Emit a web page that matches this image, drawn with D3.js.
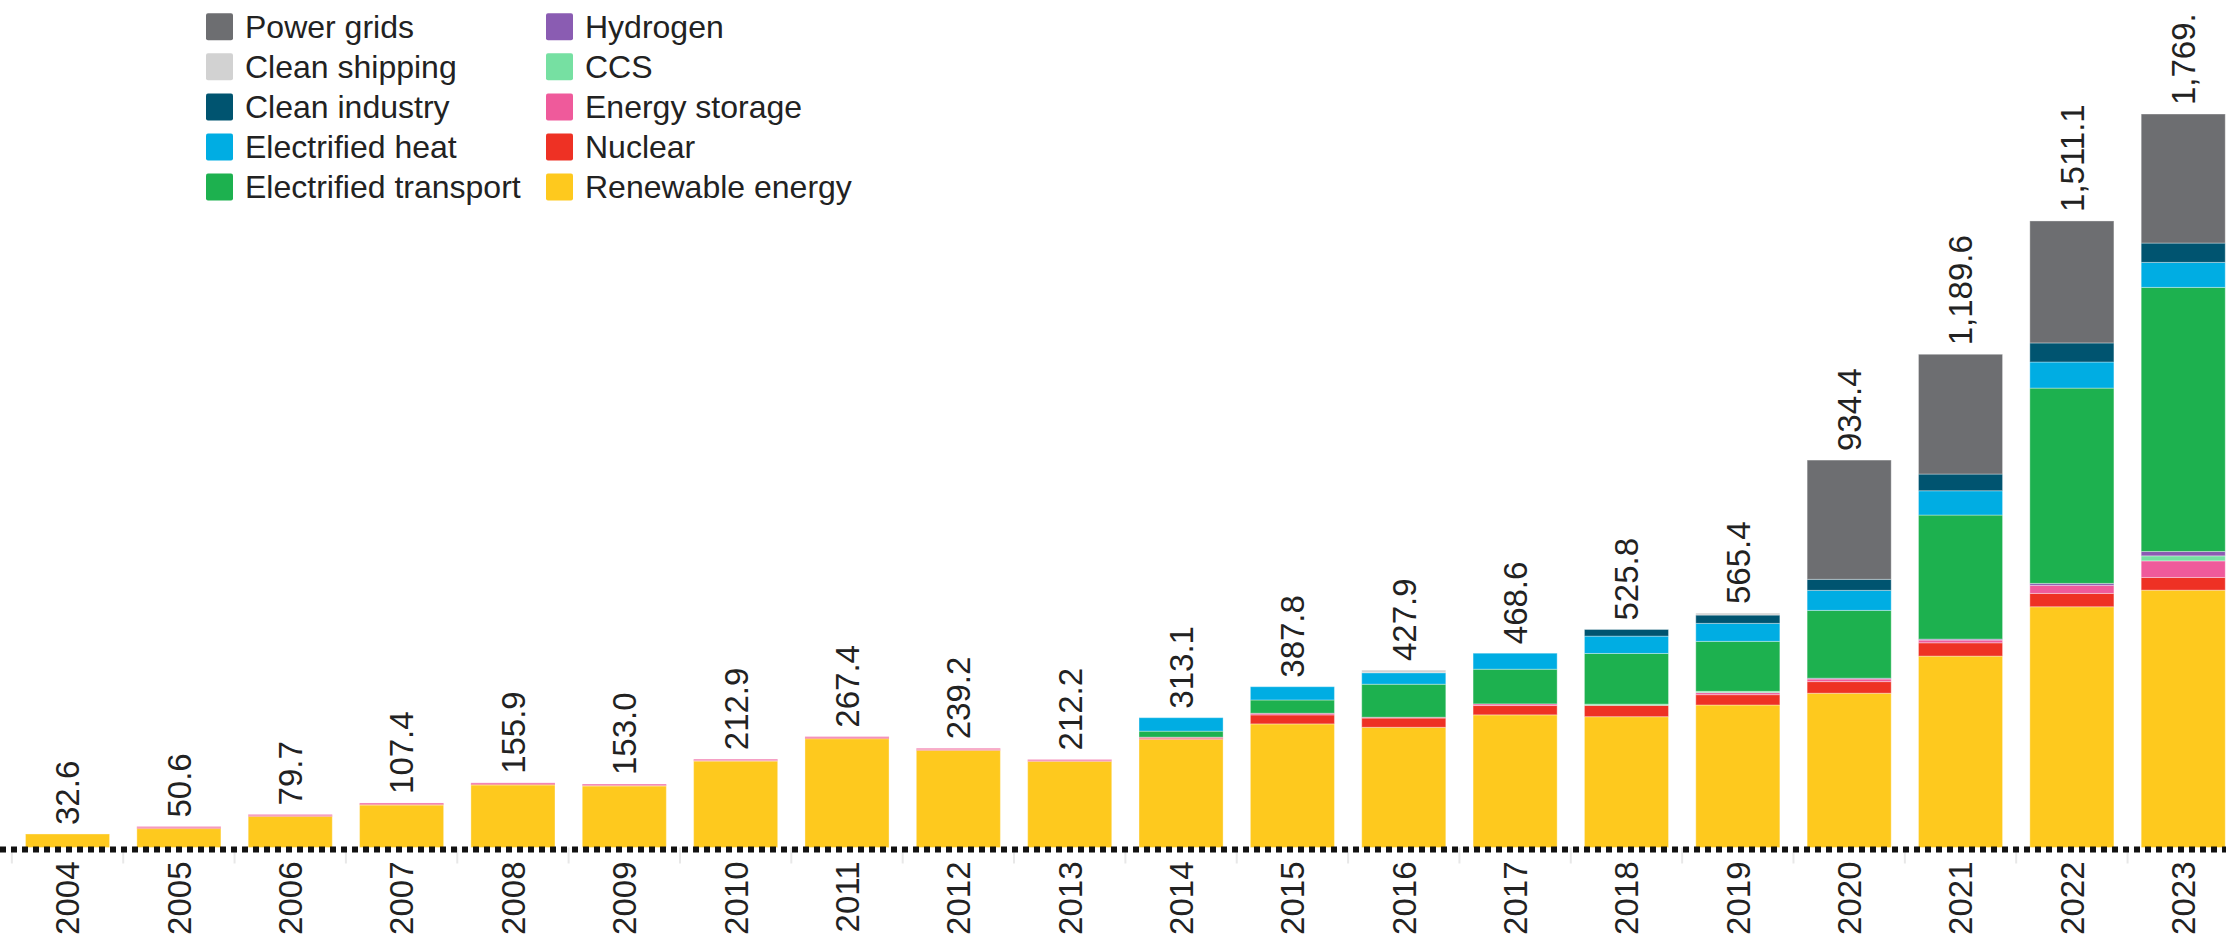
<!DOCTYPE html>
<html>
<head>
<meta charset="utf-8">
<script src="https://cdn.jsdelivr.net/npm/d3@7"></script>
<style>
  html, body { margin: 0; padding: 0; background: #ffffff; }
  svg { display: block; font-family: "Liberation Sans", Arial, sans-serif; }
</style>
</head>
<body>
<svg id="chart" width="2226" height="943"></svg>
<script>
// ---- data ----
const years = ["2004","2005","2006","2007","2008","2009","2010","2011","2012","2013",
               "2014","2015","2016","2017","2018","2019","2020","2021","2022","2023"];
const totalLabels = ["32.6","50.6","79.7","107.4","155.9","153.0","212.9","267.4","239.2","212.2",
                     "313.1","387.8","427.9","468.6","525.8","565.4","934.4","1,189.6","1,511.1","1,769."];
// stacking order bottom -> top
const seriesNames = ["Renewable energy","Nuclear","Energy storage","CCS","Hydrogen",
                     "Electrified transport","Electrified heat","Clean industry","Clean shipping","Power grids"];
const renewable   = [32.6, 45.6, 74.7, 102.4, 150.9, 148.5, 208.4, 262.4, 234.2, 207.7,
                     260.6, 298.1, 289.9, 319.9, 315.5, 343.7, 372.1, 461.6, 580.6, 620.7];
const nuclear     = [0, 2.0, 2.0, 2.0, 2.0, 1.5, 1.5, 2.0, 2.0, 1.5,
                     3.0, 21.7, 22.3, 22.5, 27.3, 24.9, 28.0, 32.1, 32.2, 30.6];
const storage     = [0, 3.0, 3.0, 3.0, 3.0, 3.0, 3.0, 3.0, 3.0, 3.0,
                     2.5, 4.0, 2.0, 4.0, 0, 5.0, 6.2, 6.5, 19.4, 40.0];
const ccs         = [0,0,0,0,0,0,0,0,0,0, 0, 0, 0, 0, 3.0, 3.0, 0, 0, 0, 12.1];
const hydrogen    = [0,0,0,0,0,0,0,0,0,0, 0, 0, 0, 0, 0, 0, 2.0, 2.4, 4.8, 10.6];
const transport   = [0,0,0,0,0,0,0,0,0,0, 14.5, 32.0, 79.6, 83.6, 122.2, 120.6, 163.6, 299.2, 471.0, 636.9];
const heat        = [0,0,0,0,0,0,0,0,0,0, 32.5, 32.0, 27.7, 38.6, 41.8, 43.4, 48.3, 58.6, 62.9, 60.3];
const industry    = [0,0,0,0,0,0,0,0,0,0, 0, 0, 0, 0, 16.0, 20.0, 26.6, 40.3, 46.0, 46.6];
const shipping    = [0,0,0,0,0,0,0,0,0,0, 0, 0, 6.4, 0, 0, 4.8, 0, 0, 0, 0];
const grids       = [0,0,0,0,0,0,0,0,0,0, 0, 0, 0, 0, 0, 0, 287.6, 288.9, 294.2, 311.2];
const seriesValues = [renewable, nuclear, storage, ccs, hydrogen, transport, heat, industry, shipping, grids];
const seriesColors = ["#fec91e","#ee3124","#ef5a9b","#76e0a2","#8a5cb2",
                      "#1db14f","#00ade3","#005470","#d2d2d2","#6d6e71"];
const legendCol1 = ["Power grids","Clean shipping","Clean industry","Electrified heat","Electrified transport"];
const legendCol2 = ["Hydrogen","CCS","Energy storage","Nuclear","Renewable energy"];

// ---- build table ----
const table = years.map((y, i) => {
  const row = { year: y };
  seriesNames.forEach((s, k) => { row[s] = seriesValues[k][i]; });
  return row;
});
const color = d3.scaleOrdinal().domain(seriesNames).range(seriesColors);

const svg = d3.select("#chart");
const W = 2226, baseY = 847.5;

const x = d3.scaleBand().domain(years).range([11.86, 2238.9]).paddingInner(0.245).paddingOuter(0.1225);
const y = d3.scaleLinear().domain([0, 2044]).range([baseY, 0]);

const stack = d3.stack().keys(seriesNames);
const stacked = stack(table);

// light gray ticks below baseline at band boundaries
const bounds = years.map(yr => x(yr) - x.step() * x.paddingInner() / 2);
bounds.push(x(years[years.length - 1]) + x.bandwidth() + x.step() * x.paddingInner() / 2);
svg.append("g").selectAll("line").data(bounds).join("line")
  .attr("x1", d => d).attr("x2", d => d)
  .attr("y1", baseY).attr("y2", baseY + 16)
  .attr("stroke", "#e8e8e8").attr("stroke-width", 2);

// bars
svg.append("g").selectAll("g").data(stacked).join("g")
  .attr("fill", d => color(d.key))
  .selectAll("rect").data(d => d).join("rect")
  .attr("x", d => x(d.data.year))
  .attr("width", x.bandwidth())
  .attr("y", d => y(d[1]))
  .attr("height", d => Math.max(0, y(d[0]) - y(d[1])))
  .attr("stroke", d => (d[1] - d[0]) > 0 ? "rgba(255,255,255,0.35)" : "none")
  .attr("stroke-width", 1);

// dotted baseline
svg.append("line")
  .attr("x1", 0).attr("x2", W)
  .attr("y1", baseY + 2).attr("y2", baseY + 2)
  .attr("stroke", "#111").attr("stroke-width", 6)
  .attr("stroke-dasharray", "6,5");

// year axis labels
const xAxis = d3.axisBottom(x).tickSize(0).tickPadding(0);
const gx = svg.append("g").attr("transform", `translate(0,${baseY})`).call(xAxis);
gx.select(".domain").remove();
gx.selectAll("text")
  .attr("transform", "translate(0,14) rotate(-90)")
  .attr("text-anchor", "end")
  .attr("x", 0).attr("y", 0).attr("dy", "0.36em")
  .attr("font-size", 33)
  .attr("font-family", "Liberation Sans, Arial, sans-serif")
  .attr("fill", "#222");

// total labels
const totals = table.map(r => d3.sum(seriesNames, s => r[s]));
svg.append("g").selectAll("text").data(years).join("text")
  .attr("transform", (d, i) => `translate(${x(d) + x.bandwidth() / 2},${y(totals[i]) - 9}) rotate(-90)`)
  .attr("text-anchor", "start")
  .attr("dy", "0.36em")
  .attr("font-size", 33)
  .attr("fill", "#222")
  .text((d, i) => totalLabels[i]);

// legend
function legendColumn(items, sx, tx) {
  const g = svg.append("g");
  const rows = g.selectAll("g").data(items).join("g")
    .attr("transform", (d, i) => `translate(0,${26.7 + i * 40.1})`);
  rows.append("rect")
    .attr("x", sx).attr("y", -13.5).attr("width", 27).attr("height", 27)
    .attr("rx", 2).attr("fill", d => color(d));
  rows.append("text")
    .attr("x", tx).attr("dy", "0.35em")
    .attr("font-size", 32).attr("fill", "#222")
    .text(d => d);
}
legendColumn(legendCol1, 206, 245);
legendColumn(legendCol2, 546, 585);
</script>
</body>
</html>
